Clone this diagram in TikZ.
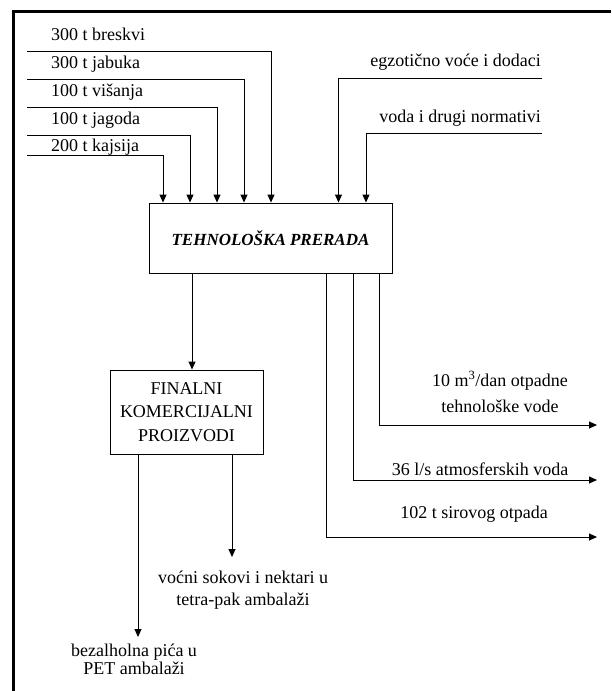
\documentclass[tikz,border=0pt]{standalone}
\usepackage{fontspec}
\setmainfont{Liberation Serif}
\usetikzlibrary{arrows.meta}
\begin{document}
\begin{tikzpicture}[x=1pt,y=-1pt,
  txt/.style={font=\fontsize{18}{22}\selectfont, inner sep=0pt},
  arr/.style={-{Triangle[length=8pt,width=7pt]}, line width=0.9pt},
  boxn/.style={draw, line width=0.9pt, inner sep=0pt, align=center}]
\useasboundingbox (0,0) rectangle (611,691);
% frame
\draw[line width=3pt] (13,691) -- (13,11.5) -- (611,11.5);
% main boxes
\node[boxn, minimum width=243pt, minimum height=70pt,
      font=\fontsize{17}{20}\bfseries\itshape\selectfont] (tp) at (270.5,238)
      {\raisebox{-4pt}{TEHNOLOŠKA PRERADA}};
\node[boxn, minimum width=153pt, minimum height=84pt,
      font=\fontsize{18}{23.5}\selectfont] (fk) at (186.5,412)
      {FINALNI\\KOMERCIJALNI\\PROIZVODI};
% input labels
\node[txt, anchor=base west] (l1) at (51,40.3) {300 t breskvi};
\node[txt, anchor=base west] (l2) at (51,68.3) {300 t jabuka};
\node[txt, anchor=base west] (l3) at (51,96.7) {100 t višanja};
\node[txt, anchor=base west] (l4) at (51,124) {100 t jagoda};
\node[txt, anchor=base west] (l5) at (51,151.5) {200 t kajsija};
\node[txt, anchor=base east] (l6) at (541,66.5) {egzotično voće i dodaci};
\node[txt, anchor=base east] (l7) at (541,122.5) {voda i drugi normativi};
% input line starts and bends
\coordinate (s1) at (27,51);  \coordinate (b1) at (271,51);
\coordinate (s2) at (27,79);  \coordinate (b2) at (244,79);
\coordinate (s3) at (27,107); \coordinate (b3) at (217,107);
\coordinate (s4) at (27,135); \coordinate (b4) at (190,135);
\coordinate (s5) at (27,155); \coordinate (b5) at (163,155);
\coordinate (s6) at (542,78); \coordinate (b6) at (338.5,78);
\coordinate (s7) at (542,133);\coordinate (b7) at (366,133);
\foreach \i in {1,...,7}
  \draw[arr] (s\i) -- (b\i) -- (b\i |- tp.north);
% tp -> fk
\coordinate (c0) at (192,0);
\draw[arr] (tp.south -| c0) -- (fk.north -| c0);
% outputs of tp
\coordinate (o1) at (379,425);
\coordinate (o2) at (353,480);
\coordinate (o3) at (326,537);
\coordinate (e1) at (597,425);
\coordinate (e2) at (597,480);
\coordinate (e3) at (597,537);
\foreach \i in {1,2,3}
  \draw[arr] (tp.south -| o\i) -- (o\i) -- (e\i);
\node[txt, font=\fontsize{18}{26}\selectfont, align=center] (r1) at (500,392)
  {10 m\textsuperscript{3}/dan otpadne\\tehnološke vode};
\node[txt, anchor=base] (r2) at (480,475) {36 l/s atmosferskih voda};
\node[txt, anchor=base] (r3) at (474,518) {102 t sirovog otpada};
% outputs of fk
\coordinate (p1) at (138,637);
\coordinate (p2) at (232,557);
\draw[arr] (fk.south -| p1) -- (p1);
\draw[arr] (fk.south -| p2) -- (p2);
\node[txt, align=center, font=\fontsize{18}{22}\selectfont] (q2) at (243,590)
  {voćni sokovi i nektari u\\tetra-pak ambalaži};
\node[txt, align=center, font=\fontsize{18}{18}\selectfont] (q1) at (134,659)
  {bezalholna pića u\\PET ambalaži};
\end{tikzpicture}
\end{document}
